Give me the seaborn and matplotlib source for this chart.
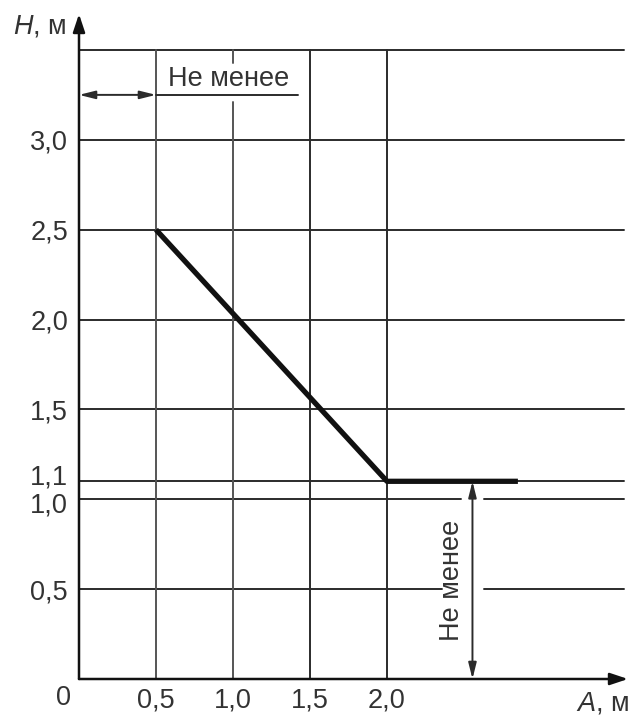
import matplotlib
matplotlib.use("Agg")
import matplotlib.pyplot as plt
import matplotlib.transforms as mtransforms
import seaborn as sns
import pandas as pd

sns.set_theme(style="white")
plt.rcParams['font.family'] = ['Liberation Sans', 'DejaVu Sans']
plt.rcParams['mathtext.fontset'] = 'custom'
plt.rcParams['mathtext.it'] = 'Liberation Sans:italic'
plt.rcParams['mathtext.rm'] = 'Liberation Sans'

# data
curve_a = [0.5, 2.0, 2.85]
curve_h = [2.5, 1.1, 1.1]
grid_a = [0.5, 1.0, 1.5, 2.0]
grid_h = [0.5, 1.0, 1.1, 1.5, 2.0, 2.5, 3.0, 3.5]
x_labels = ['0,5', '1,0', '1,5', '2,0']
y_labels = ['0,5', '1,0', '1,1', '1,5', '2,0', '2,5', '3,0']
note = 'Не менее'

df = pd.DataFrame({'A': curve_a, 'H': curve_h})

line_c = '#2b2b2b'
text_c = '#333333'
fs = 19.5

fig = plt.figure(figsize=(6.29, 7.15), dpi=100)
ax = fig.add_axes([79 / 629, 36 / 715, 549 / 629, 665 / 715])
ax.set_xlim(0, 3.565)
ax.set_ylim(0, 3.7)
for s in ax.spines.values():
    s.set_visible(False)

top = grid_h[-1]
right = 3.54

# horizontal grid lines (with gaps for the vertical note)
for h in grid_h:
    if h == 1.0:
        ax.plot([0, 2.48], [h, h], color=line_c, lw=1.4)
        ax.plot([2.63, right], [h, h], color=line_c, lw=1.4)
    elif h == 0.5:
        ax.plot([0, 2.36], [h, h], color=line_c, lw=1.4)
        ax.plot([2.63, right], [h, h], color=line_c, lw=1.4)
    else:
        ax.plot([0, right], [h, h], color=line_c, lw=1.4)

# vertical grid lines (gap for the top note)
for a in grid_a:
    if a == 1.0:
        ax.plot([a, a], [0, 3.21], color='#555555', lw=1.4)
        ax.plot([a, a], [3.43, top], color='#555555', lw=1.4)
    else:
        ax.plot([a, a], [0, top], color='#555555' if a < 1.5 else line_c, lw=1.4)

# main curve
sns.lineplot(data=df, x='A', y='H', ax=ax, color='#111111', lw=3.8,
             sort=False, solid_capstyle='butt', zorder=5)

# axes with arrows
arr = dict(arrowstyle='-|>,head_length=0.9,head_width=0.3', color='#111111', lw=1.8,
           shrinkA=0, shrinkB=0)
ax.annotate('', xy=(3.565, 0), xytext=(0, 0), arrowprops=arr, annotation_clip=False)
ax.annotate('', xy=(0, 3.7), xytext=(0, 0), arrowprops=arr, annotation_clip=False)

# ticks
ax.set_xticks(grid_a)
ax.set_xticklabels(x_labels, fontsize=fs, color=text_c)
ax.set_yticks(grid_h[:-1])
ax.set_yticklabels(y_labels, fontsize=fs, color=text_c)
ax.tick_params(axis='y', length=0, pad=8)
ax.tick_params(axis='x', length=0, pad=6)
ax.set_xlabel('')
ax.set_ylabel('')

# 1,1 and 1,0 sit close together: nudge them apart a little
for lab in ax.get_yticklabels():
    if lab.get_text() == '1,1':
        lab.set_transform(lab.get_transform() +
                          mtransforms.ScaledTranslation(0, 5 / 72, fig.dpi_scale_trans))
    elif lab.get_text() == '1,0':
        lab.set_transform(lab.get_transform() +
                          mtransforms.ScaledTranslation(0, -2 / 72, fig.dpi_scale_trans))

ax.text(-0.05, -0.105, '0', fontsize=fs, color=text_c, ha='right', va='center')

# axis titles
ax.text(-0.08, 3.63, '$H$, м', fontsize=fs, color=text_c, ha='right', va='center')
ax.text(3.57, -0.135, '$A$, м', fontsize=fs, color=text_c, ha='right', va='center',
        clip_on=False)

# top note: double arrow and underlined text
darr = dict(arrowstyle='<|-|>,head_length=0.8,head_width=0.2', color=line_c, lw=1.4,
            shrinkA=0, shrinkB=0)
ax.annotate('', xy=(0.5, 3.25), xytext=(0, 3.25), arrowprops=darr)
ax.plot([0.5, 1.42], [3.25, 3.25], color=line_c, lw=1.4)
ax.text(0.575, 3.34, note, fontsize=fs, color=text_c, ha='left', va='center')

# right note: vertical double arrow and rotated text
ax.annotate('', xy=(2.555, 0), xytext=(2.555, 1.1), arrowprops=darr)
ax.text(2.42, 0.55, note, fontsize=fs, color=text_c, ha='center', va='center',
        rotation=90)

fig.savefig('out.png', dpi=100)
